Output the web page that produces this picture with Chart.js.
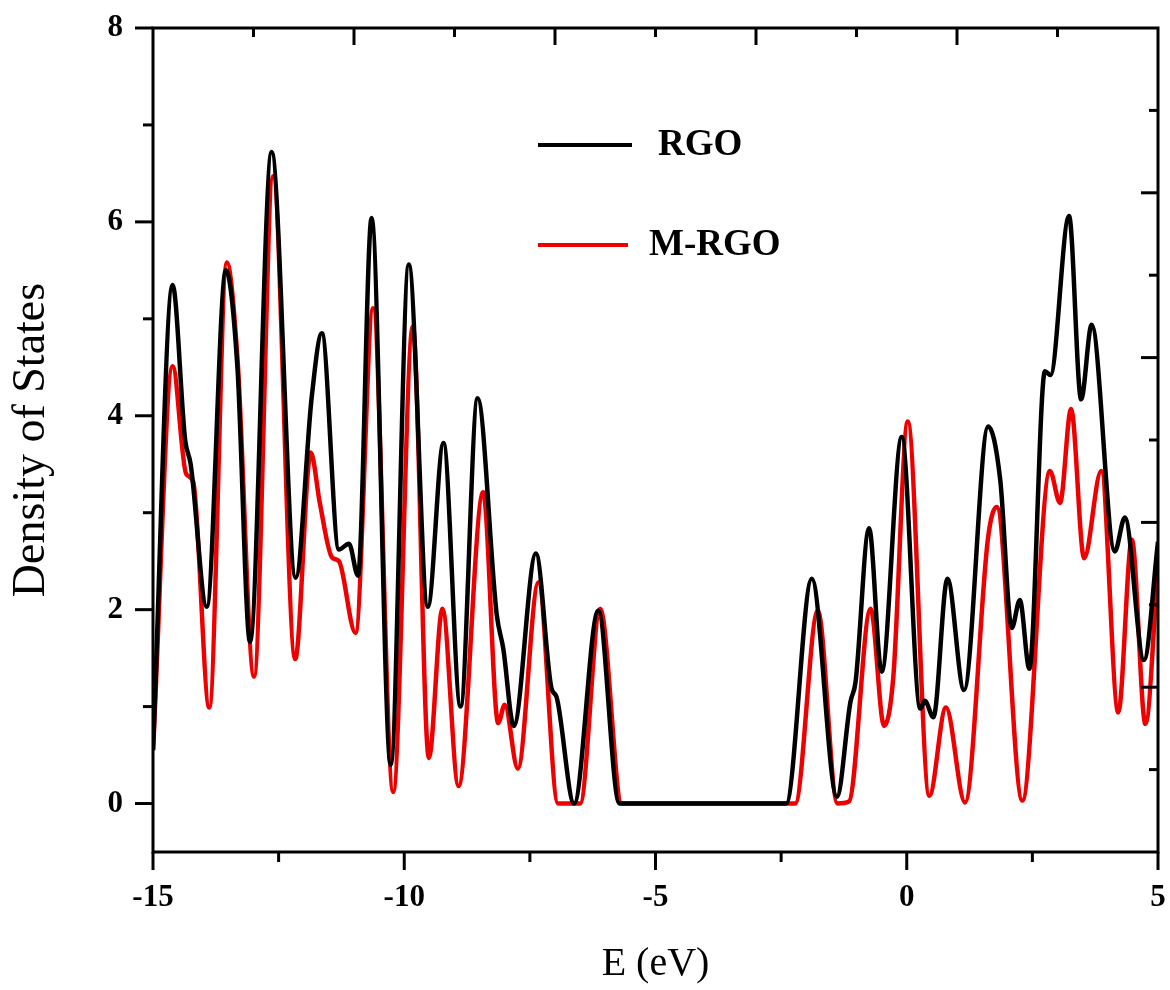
<!DOCTYPE html>
<html>
<head>
<meta charset="utf-8">
<title>Density of States</title>
<script src="https://cdn.jsdelivr.net/npm/chart.js@4.4.1/dist/chart.umd.min.js"></script>
<style>
  body { margin: 0; background: #fff; }
  #chartBox { width: 1170px; height: 990px; }
</style>
</head>
<body>
<div id="chartBox"><canvas id="dosChart"></canvas></div>
<script>
// values (energy in eV, density of states)
const rgoEnergy = [-15.0, -14.61, -14.36, -14.25, -13.93, -13.55, -13.32, -13.07, -12.64, -12.16,
  -11.84, -11.64, -11.3, -11.1, -10.92, -10.65, -10.27, -9.91, -9.53, -9.22,
  -8.88, -8.54, -8.16, -8.03, -7.82, -7.38, -7.07, -6.97, -6.62, -6.14,
  -5.72, -2.4, -1.89, -1.39, -1.12, -1.02, -0.75, -0.5, -0.1, 0.27,
  0.36, 0.53, 0.81, 1.14, 1.62, 1.86, 2.09, 2.25, 2.44, 2.75,
  2.86, 3.23, 3.47, 3.68, 4.14, 4.34, 4.72, 5.0];
const rgoDos = [0.55, 5.35, 3.75, 3.5, 2.03, 5.5, 4.5, 1.67, 6.72, 2.33,
  4.2, 4.85, 2.62, 2.68, 2.35, 6.04, 0.4, 5.56, 2.03, 3.72,
  1.0, 4.18, 1.95, 1.6, 0.8, 2.58, 1.19, 1.1, 0.0, 1.99,
  0.0, 0.0, 2.32, 0.07, 1.05, 1.25, 2.84, 1.36, 3.78, 0.98,
  1.06, 0.89, 2.32, 1.17, 3.89, 3.34, 1.81, 2.1, 1.39, 4.46,
  4.42, 6.06, 4.17, 4.94, 2.6, 2.95, 1.48, 2.7];

const mrgoEnergy = [-15.0, -14.61, -14.34, -14.2, -13.88, -13.53, -13.32, -12.99, -12.61, -12.17,
  -11.86, -11.68, -11.44, -11.3, -10.97, -10.62, -10.22, -9.83, -9.51, -9.24,
  -8.92, -8.43, -8.13, -8.0, -7.74, -7.33, -6.94, -6.5, -6.1, -5.67,
  -2.22, -1.77, -1.38, -1.15, -0.72, -0.45, -0.27, 0.02, 0.45, 0.78,
  1.16, 1.62, 1.79, 2.3, 2.85, 3.05, 3.27, 3.53, 3.87, 4.21,
  4.48, 4.75, 5.0];
const mrgoDos = [0.55, 4.51, 3.4, 3.32, 0.99, 5.58, 4.6, 1.31, 6.47, 1.49,
  3.62, 3.1, 2.54, 2.5, 1.76, 5.11, 0.12, 4.92, 0.47, 2.01,
  0.18, 3.21, 0.83, 1.02, 0.36, 2.28, 0.0, 0.0, 2.01, 0.0,
  0.0, 1.99, 0.0, 0.02, 2.01, 0.8, 1.29, 3.94, 0.08, 0.99,
  0.01, 2.75, 3.06, 0.03, 3.43, 3.1, 4.07, 2.53, 3.43, 0.94,
  2.72, 0.82, 2.45];

const seriesNames = ['RGO', 'M-RGO'];
const seriesColors = ['#000000', '#ee0000'];
const xTickValues = [-15, -10, -5, 0, 5];
const yTickValues = [0, 2, 4, 6, 8];

const serif = "'Liberation Serif', 'Times New Roman', serif";

function toPoints(xs, ys) {
  return xs.map((x, i) => ({x: x, y: ys[i]}));
}

// no room kept for labels hanging over the plot edges
function noOverhang(s) {
  s.paddingTop = 0;
  s.paddingBottom = 0;
  s.paddingLeft = 0;
  s.paddingRight = 0;
}

// closed frame with Origin style ticks (outward on left/bottom, inward on top/right)
const frameTicks = {
  id: 'frameTicks',
  afterDatasetsDraw(chart) {
    const ctx = chart.ctx;
    const area = chart.chartArea;
    const {x, y, x2, y2} = chart.scales;
    const line = (ax, ay, bx, by) => {
      ctx.beginPath();
      ctx.moveTo(ax, ay);
      ctx.lineTo(bx, by);
      ctx.stroke();
    };

    ctx.save();
    ctx.strokeStyle = '#000';
    ctx.lineWidth = 3;
    ctx.strokeRect(area.left, area.top, area.right - area.left, area.bottom - area.top);

    for (let v = x.min; v <= x.max + 1e-9; v += 2.5) {
      const px = x.getPixelForValue(v);
      const len = Math.abs(v % 5) < 1e-9 ? 18 : 10;
      line(px, area.bottom, px, area.bottom + len);
    }

    for (let v = 0; v <= y.max + 1e-9; v += 1) {
      const py = y.getPixelForValue(v);
      const len = v % 2 === 0 ? 18 : 10;
      line(area.left, py, area.left - len, py);
    }

    x2.ticks.forEach(t => {
      if (t.value <= x2.min || t.value >= x2.max) return;
      const px = x2.getPixelForValue(t.value);
      const len = Math.abs((t.value - x2.min) % 4) < 1e-9 ? 17 : 9;
      line(px, area.top, px, area.top + len);
    });

    y2.ticks.forEach(t => {
      if (t.value <= y2.min || t.value >= y2.max) return;
      const py = y2.getPixelForValue(t.value);
      const len = t.value % 2 === 0 ? 17 : 9;
      line(area.right, py, area.right - len, py);
    });
    ctx.restore();
  }
};

// legend drawn inside the plot, where the figure has it
const legendSpots = [
  {lineY: 145, x0: 538, x1: 632, textX: 658},
  {lineY: 245, x0: 538, x1: 628, textX: 649}
];

const insideLegend = {
  id: 'insideLegend',
  afterDraw(chart) {
    const ctx = chart.ctx;
    ctx.save();
    chart.data.datasets.forEach((ds, i) => {
      const spot = legendSpots[i];
      ctx.strokeStyle = ds.borderColor;
      ctx.lineWidth = 4;
      ctx.beginPath();
      ctx.moveTo(spot.x0, spot.lineY);
      ctx.lineTo(spot.x1, spot.lineY);
      ctx.stroke();
      ctx.fillStyle = '#000';
      ctx.font = 'bold 37px ' + serif;
      ctx.textBaseline = 'middle';
      ctx.textAlign = 'left';
      ctx.fillText(ds.label, spot.textX, spot.lineY);
    });
    ctx.restore();
  }
};

const datasets = [
  {label: seriesNames[0], data: toPoints(rgoEnergy, rgoDos), borderColor: seriesColors[0]},
  {label: seriesNames[1], data: toPoints(mrgoEnergy, mrgoDos), borderColor: seriesColors[1]}
].map(ds => Object.assign(ds, {
  borderWidth: 4.5,
  pointRadius: 0,
  fill: false,
  cubicInterpolationMode: 'monotone'
}));

new Chart(document.getElementById('dosChart'), {
  type: 'line',
  data: {datasets: datasets},
  options: {
    responsive: true,
    maintainAspectRatio: false,
    animation: false,
    layout: {padding: {top: 28, right: 12, left: 0, bottom: 0}},
    plugins: {
      legend: {display: false},
      tooltip: {enabled: false}
    },
    scales: {
      x: {
        type: 'linear',
        position: 'bottom',
        min: -15,
        max: 5,
        afterBuildTicks: s => { s.ticks = xTickValues.map(v => ({value: v})); },
        afterFit: s => { s.height = 138; noOverhang(s); },
        grid: {display: false, drawTicks: false},
        border: {display: false},
        ticks: {
          color: '#000',
          padding: 27,
          maxRotation: 0,
          font: {family: serif, size: 31, weight: 'bold'},
          callback: v => String(v)
        },
        title: {
          display: true,
          text: 'E (eV)',
          color: '#000',
          font: {family: serif, size: 40},
          padding: {top: 0, bottom: 2}
        }
      },
      y: {
        type: 'linear',
        position: 'left',
        min: -0.5,
        max: 8,
        afterBuildTicks: s => { s.ticks = yTickValues.map(v => ({value: v})); },
        afterFit: s => { s.width = 153; noOverhang(s); },
        grid: {display: false, drawTicks: false},
        border: {display: false},
        ticks: {
          color: '#000',
          padding: 30,
          font: {family: serif, size: 31, weight: 'bold'},
          callback: v => String(v)
        },
        title: {
          display: true,
          text: 'Density of States',
          color: '#000',
          font: {family: serif, size: 46},
          padding: {top: 4, bottom: 0}
        }
      },
      x2: {
        type: 'linear',
        position: 'top',
        display: false,
        min: -15,
        max: 5,
        ticks: {stepSize: 2}
      },
      y2: {
        type: 'linear',
        position: 'right',
        display: false,
        min: 0,
        max: 10,
        ticks: {stepSize: 1}
      }
    }
  },
  plugins: [frameTicks, insideLegend]
});
</script>
</body>
</html>
